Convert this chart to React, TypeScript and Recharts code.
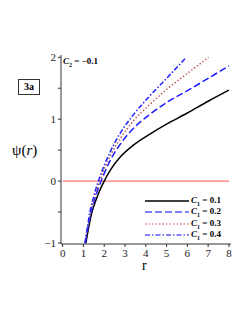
import React from 'react'
import { LineChart, Line, XAxis, YAxis } from 'recharts'

// C1 = 0.1
const rC1a = [1.12, 1.25, 1.41, 1.6, 1.8, 2.0, 2.3, 2.8, 3.4, 4.2, 5, 6, 7, 8]
const psiC1a = [-1, -0.75, -0.5, -0.31, -0.14, 0, 0.18, 0.4, 0.58, 0.76, 0.92, 1.1, 1.29, 1.47]
// C1 = 0.2
const rC1b = [1.09, 1.22, 1.37, 1.6, 1.85, 2.3, 2.8, 3.4, 4.2, 5, 6, 7, 8]
const psiC1b = [-1, -0.74, -0.5, -0.23, 0, 0.34, 0.61, 0.85, 1.08, 1.27, 1.46, 1.66, 1.86]
// C1 = 0.3
const rC1c = [1.08, 1.2, 1.34, 1.55, 1.78, 2.3, 2.8, 3.4, 4.2, 5, 6, 7.02]
const psiC1c = [-1, -0.76, -0.5, -0.23, 0, 0.41, 0.7, 0.97, 1.24, 1.48, 1.74, 2.0]
// C1 = 0.4
const rC1d = [1.07, 1.18, 1.31, 1.5, 1.72, 2.3, 2.8, 3.4, 4.2, 5, 5.95]
const psiC1d = [-1, -0.77, -0.5, -0.24, 0, 0.48, 0.79, 1.07, 1.38, 1.66, 2.0]

const rZero = [0, 8]
const psiZero = [0, 0]

const xTicks = [0, 0.5, 1, 1.5, 2, 2.5, 3, 3.5, 4, 4.5, 5, 5.5, 6, 6.5, 7, 7.5, 8]
const yTicks = [-1, -0.5, 0, 0.5, 1, 1.5, 2]
const legendLabels = ['0.1', '0.2', '0.3', '0.4']

const toRows = (rs: number[], ps: number[]) => rs.map((r, i) => ({ r, psi: ps[i] }))

const series = [
    { data: toRows(rC1a, psiC1a), stroke: '#000000', dash: undefined },
    { data: toRows(rC1b, psiC1b), stroke: '#1a1aff', dash: '7 3' },
    { data: toRows(rC1c, psiC1c), stroke: '#c0605a', dash: '1.5 2' },
    { data: toRows(rC1d, psiC1d), stroke: '#2020ff', dash: '5 2 1.5 2' },
]

const serif = '"Liberation Serif", "DejaVu Serif", serif'
const fmt = (v: number) => (v < 0 ? '\u2212' + Math.abs(v) : String(v))

const XTick = (props: any) => {
    const { x, y, payload } = props
    if (!Number.isInteger(payload.value)) return <g />
    return (
        <text x={x} y={y + 8} textAnchor="middle" fontFamily={serif} fontSize={11} fill="#222">
            {fmt(payload.value)}
        </text>
    )
}

const YTick = (props: any) => {
    const { x, y, payload } = props
    if (!Number.isInteger(payload.value)) return <g />
    return (
        <text x={x} y={y + 4} textAnchor="end" fontFamily={serif} fontSize={11} fill="#222">
            {fmt(payload.value)}
        </text>
    )
}

export default function App() {
    return (
        <div style={{ position: 'absolute', left: 0, top: 0, width: 249, height: 323, background: '#fff' }}>
            <LineChart width={249} height={323} margin={{ top: 55, right: 18, left: 31, bottom: 49 }}>
                <XAxis xAxisId="b" dataKey="r" type="number" domain={[-0.08, 8.1]} ticks={xTicks}
                    tick={<XTick />} tickSize={3} stroke="#333" height={30} allowDataOverflow />
                <XAxis xAxisId="t" orientation="top" type="number" domain={[-0.08, 8.1]}
                    tick={false} tickLine={false} stroke="#333" height={0} />
                <YAxis yAxisId="l" type="number" domain={[-1.016, 2.037]} ticks={yTicks}
                    tick={<YTick />} tickSize={3} stroke="#333" width={30} allowDataOverflow />
                <YAxis yAxisId="r" orientation="right" type="number" domain={[-1.016, 2.037]}
                    tick={false} tickLine={false} stroke="#333" width={0} />
                <Line xAxisId="b" yAxisId="l" data={toRows(rZero, psiZero)} dataKey="psi" stroke="#ff5050"
                    strokeWidth={1} dot={false} isAnimationActive={false} />
                {series.map((s, i) => (
                    <Line key={i} xAxisId="b" yAxisId="l" data={s.data} dataKey="psi" type="monotone"
                        stroke={s.stroke} strokeWidth={1.5} strokeDasharray={s.dash} dot={false}
                        isAnimationActive={false} />
                ))}
            </LineChart>
            <div style={{ position: 'absolute', left: 145, top: 195, fontFamily: serif, fontSize: 9, fontWeight: 'bold' }}>
                {series.map((s, i) => (
                    <div key={i} style={{ display: 'flex', alignItems: 'center', height: 11.5 }}>
                        <svg width={44} height={6}>
                            <line x1={0} y1={3} x2={44} y2={3} stroke={s.stroke} strokeWidth={1.3}
                                strokeDasharray={s.dash} strokeOpacity={i === 0 ? 1 : 0.75} />
                        </svg>
                        <span style={{ marginLeft: 2, whiteSpace: 'nowrap' }}>
                            <i>C</i><sub style={{ fontSize: 6 }}>1</sub> = {legendLabels[i]}
                        </span>
                    </div>
                ))}
            </div>
            <div style={{ position: 'absolute', left: 18, top: 79, width: 20, height: 14, border: '1px solid #333',
                fontFamily: serif, fontWeight: 'bold', fontSize: 10, textAlign: 'center', lineHeight: '14px' }}>
                3a
            </div>
            <div style={{ position: 'absolute', left: 63, top: 56, fontFamily: serif, fontWeight: 'bold', fontSize: 9, whiteSpace: 'nowrap' }}>
                <i>C</i><sub style={{ fontSize: 6 }}>2</sub> = {'\u2212'}0.1
            </div>
            <div style={{ position: 'absolute', left: 12, top: 142, fontFamily: serif, fontSize: 15 }}>
                ψ(<i>r</i>)
            </div>
            <div style={{ position: 'absolute', left: 142, top: 261, fontFamily: serif, fontSize: 14, lineHeight: '10px' }}>
                r
            </div>
        </div>
    )
}
